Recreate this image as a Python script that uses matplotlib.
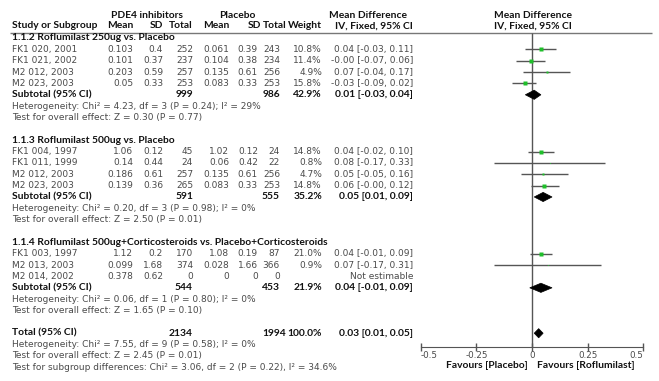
import matplotlib
matplotlib.use("Agg")
import matplotlib.pyplot as plt
from matplotlib.patches import Polygon
import numpy as np

# ---------------- data ----------------
group_titles = ["1.1.2 Roflumilast 250ug vs. Placebo",
                "1.1.3 Roflumilast 500ug vs. Placebo",
                "1.1.4 Roflumilast 500ug+Corticosteroids vs. Placebo+Corticosteroids"]
study_names = ["FK1 020, 2001", "FK1 021, 2002", "M2 012, 2003", "M2 023, 2003",
               "FK1 004, 1997", "FK1 011, 1999", "M2 012, 2003", "M2 023, 2003",
               "FK1 003, 1997", "M2 013, 2003", "M2 014, 2002"]
study_group = [0, 0, 0, 0, 1, 1, 1, 1, 2, 2, 2]
pde_mean = [0.103, 0.101, 0.203, 0.05, 1.06, 0.14, 0.186, 0.139, 1.12, 0.099, 0.378]
pde_sd = [0.4, 0.37, 0.59, 0.33, 0.12, 0.44, 0.61, 0.36, 0.2, 1.68, 0.62]
pde_n = [252, 237, 257, 253, 45, 24, 257, 265, 170, 374, 0]
pl_mean = [0.061, 0.104, 0.135, 0.083, 1.02, 0.06, 0.135, 0.083, 1.08, 0.028, 0]
pl_sd = [0.39, 0.38, 0.61, 0.33, 0.12, 0.42, 0.61, 0.33, 0.19, 1.66, 0]
pl_n = [243, 234, 256, 253, 24, 22, 256, 253, 87, 366, 0]
weight = [10.8, 11.4, 4.9, 15.8, 14.8, 0.8, 4.7, 14.8, 21.0, 0.9, None]
md = [0.042, -0.003, 0.068, -0.033, 0.04, 0.08, 0.051, 0.056, 0.04, 0.071, None]
ci_lo = [-0.03, -0.07, -0.04, -0.09, -0.02, -0.17, -0.05, -0.004, -0.01, -0.17, None]
ci_hi = [0.11, 0.06, 0.17, 0.02, 0.10, 0.33, 0.16, 0.12, 0.09, 0.31, None]

sub_pde_n = [999, 591, 544]
sub_pl_n = [986, 555, 453]
sub_weight = [42.9, 35.2, 21.9]
sub_md = [0.01, 0.05, 0.04]
sub_lo = [-0.03, 0.01, -0.01]
sub_hi = [0.04, 0.09, 0.09]
sub_het = ["Heterogeneity: Chi² = 4.23, df = 3 (P = 0.24); I² = 29%",
           "Heterogeneity: Chi² = 0.20, df = 3 (P = 0.98); I² = 0%",
           "Heterogeneity: Chi² = 0.06, df = 1 (P = 0.80); I² = 0%"]
sub_effect = ["Test for overall effect: Z = 0.30 (P = 0.77)",
              "Test for overall effect: Z = 2.50 (P = 0.01)",
              "Test for overall effect: Z = 1.65 (P = 0.10)"]

total_pde_n = 2134
total_pl_n = 1994
total_weight = 100.0
total_md, total_lo, total_hi = 0.03, 0.01, 0.05
total_notes = ["Heterogeneity: Chi² = 7.55, df = 9 (P = 0.58); I² = 0%",
               "Test for overall effect: Z = 2.45 (P = 0.01)",
               "Test for subgroup differences: Chi² = 3.06, df = 2 (P = 0.22), I² = 34.6%"]

x_ticks = [-0.5, -0.25, 0, 0.25, 0.5]
x_tick_labels = ["-0.5", "-0.25", "0", "0.25", "0.5"]
favours_left = "Favours [Placebo]"
favours_right = "Favours [Roflumilast]"

# ---------------- layout / style ----------------
W, H = 659, 381
REG = dict(family="DejaVu Sans", fontsize=6.5, color="#4a4a4a")
BOLD = dict(family="Lato", fontsize=7.4, fontweight="bold", color="#111111")
GREEN = "#1fbf2a"
LINE = "#555555"

X_NAME = 12
X_PM, X_PSD, X_PN = 133, 163, 193
X_QM, X_QSD, X_QN, X_QN_TOT = 229, 258, 280, 286
X_W = 322
X_CI = 413
Y0, PITCH = 38.0, 11.355


def rowy(i):
    return Y0 + PITCH * i


def fmt(v):
    if float(v) == int(v):
        return str(int(v))
    return repr(float(v))


fig = plt.figure(figsize=(W / 100, H / 100), dpi=100)
ax = fig.add_axes([0, 0, 1, 1])
ax.set_xlim(0, W)
ax.set_ylim(H, 0)
ax.axis("off")

fax = fig.add_axes([420.7 / W, 0, 222.6 / W, 1])
fax.set_xlim(-0.5, 0.5)
fax.set_ylim(H, 0)
fax.patch.set_alpha(0)
for s in ("left", "right", "top"):
    fax.spines[s].set_visible(False)
AXIS_Y = 346.5
fax.spines["bottom"].set_position(("data", AXIS_Y))
fax.spines["bottom"].set_color(LINE)
fax.set_yticks([])
fax.set_xticks(x_ticks)
fax.set_xticklabels(x_tick_labels, family="DejaVu Sans", fontsize=6.3, color="#4a4a4a")
fax.tick_params(axis="x", direction="inout", length=6, width=1, color=LINE, pad=0)
labs = fax.get_xticklabels()
labs[0].set_ha("left")
labs[-1].set_ha("right")

# header
ax.text(147, 15, "PDE4 inhibitors", ha="center", va="center", **BOLD)
ax.text(237, 15, "Placebo", ha="center", va="center", **BOLD)
ax.text(368, 15, "Mean Difference", ha="center", va="center", **BOLD)
ax.text(532.5, 15, "Mean Difference", ha="center", va="center", **BOLD)
hy = 26
ax.text(X_NAME, hy, "Study or Subgroup", ha="left", va="center", **BOLD)
for x, t in [(X_PM, "Mean"), (X_PSD, "SD"), (X_PN, "Total"), (X_QM + 1, "Mean"),
             (X_QSD + 3, "SD"), (287, "Total"), (X_W, "Weight"), (X_CI, "IV, Fixed, 95% CI")]:
    ax.text(x, hy, t, ha="right", va="center", **BOLD)
ax.text(533, hy, "IV, Fixed, 95% CI", ha="center", va="center", **BOLD)
ax.hlines(32.5, 10, 652, color="#777777", lw=1)
fax.vlines(0, 32.5, AXIS_Y, color=LINE, lw=1, zorder=1)


def diamond(m, lo, hi, y):
    fax.add_patch(Polygon([(lo, y), (m, y - 4.6), (hi, y), (m, y + 4.6)],
                          closed=True, fc="black", ec="black", lw=0.5, zorder=4))


row = 0
for g in range(3):
    ax.text(X_NAME, rowy(row), group_titles[g], ha="left", va="center", **BOLD)
    row += 1
    for k in [k for k in range(len(study_names)) if study_group[k] == g]:
        y = rowy(row)
        ax.text(X_NAME, y, study_names[k], ha="left", va="center", **REG)
        ax.text(X_PM, y, fmt(pde_mean[k]), ha="right", va="center", **REG)
        ax.text(X_PSD, y, fmt(pde_sd[k]), ha="right", va="center", **REG)
        ax.text(X_PN, y, fmt(pde_n[k]), ha="right", va="center", **REG)
        ax.text(X_QM, y, fmt(pl_mean[k]), ha="right", va="center", **REG)
        ax.text(X_QSD, y, fmt(pl_sd[k]), ha="right", va="center", **REG)
        ax.text(X_QN, y, fmt(pl_n[k]), ha="right", va="center", **REG)
        if weight[k] is not None:
            ax.text(X_W, y, f"{weight[k]:.1f}%", ha="right", va="center", **REG)
            ax.text(X_CI, y, f"{md[k]:.2f} [{ci_lo[k]:.2f}, {ci_hi[k]:.2f}]",
                    ha="right", va="center", **REG)
            fax.hlines(y, ci_lo[k], ci_hi[k], color=LINE, lw=1, zorder=2)
            side_px = 0.95 * np.sqrt(weight[k])
            fax.plot([md[k]], [y], marker="s", ms=side_px * 0.72, color=GREEN,
                     mec="none", zorder=3)
        else:
            ax.text(X_CI, y, "Not estimable", ha="right", va="center", **REG)
        row += 1
    y = rowy(row)
    ax.text(X_NAME, y, "Subtotal (95% CI)", ha="left", va="center", **BOLD)
    ax.text(X_PN, y, str(sub_pde_n[g]), ha="right", va="center", **BOLD)
    ax.text(X_QN, y, str(sub_pl_n[g]), ha="right", va="center", **BOLD)
    ax.text(X_W, y, f"{sub_weight[g]:.1f}%", ha="right", va="center", **BOLD)
    ax.text(X_CI, y, f"{sub_md[g]:.2f} [{sub_lo[g]:.2f}, {sub_hi[g]:.2f}]",
            ha="right", va="center", **BOLD)
    diamond(sub_md[g], sub_lo[g], sub_hi[g], y)
    row += 1
    ax.text(X_NAME, rowy(row), sub_het[g], ha="left", va="center", **REG)
    row += 1
    ax.text(X_NAME, rowy(row), sub_effect[g], ha="left", va="center", **REG)
    row += 2

y = rowy(row)
ax.text(X_NAME, y, "Total (95% CI)", ha="left", va="center", **BOLD)
ax.text(X_PN, y, str(total_pde_n), ha="right", va="center", **BOLD)
ax.text(X_QN_TOT, y, str(total_pl_n), ha="right", va="center", **BOLD)
ax.text(X_W, y, f"{total_weight:.1f}%", ha="right", va="center", **BOLD)
ax.text(X_CI, y, f"{total_md:.2f} [{total_lo:.2f}, {total_hi:.2f}]",
        ha="right", va="center", **BOLD)
diamond(total_md, total_lo, total_hi, y)
row += 1
for t in total_notes:
    ax.text(X_NAME, rowy(row), t, ha="left", va="center", **REG)
    row += 1

ax.text(528, 365, favours_left, ha="right", va="center", **BOLD)
ax.text(537, 365, favours_right, ha="left", va="center", **BOLD)

fig.savefig("out.png", dpi=100)
